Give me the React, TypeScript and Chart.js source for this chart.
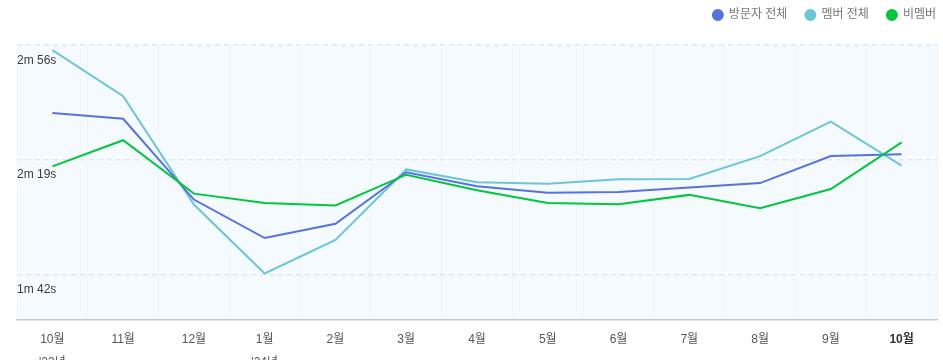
import React, { useEffect, useRef } from "react";
import { Chart, registerables } from "chart.js";

Chart.register(...registerables);

const months = ["10월", "11월", "12월", "1월", "2월", "3월", "4월", "5월", "6월", "7월", "8월", "9월", "10월"];
const years = ["'23년", "", "", "'24년", "", "", "", "", "", "", "", "", ""];

// average session time, in seconds
const visitors = [154.2, 152.3, 126.3, 113.9, 118.5, 135.1, 130.6, 128.5, 128.7, 130.2, 131.6, 140.3, 140.9];
const members = [174.4, 159.6, 124.7, 102.5, 113.3, 136.0, 131.9, 131.4, 132.8, 132.9, 140.3, 151.4, 137.2];
const nonMembers = [137.0, 145.4, 128.2, 125.2, 124.4, 134.3, 129.3, 125.2, 124.8, 127.8, 123.5, 129.7, 144.7];

const yTicks = [102, 139, 176];
const yMin = 87.5;
const yMax = 176.4;

const seriesNames = ["방문자 전체", "멤버 전체", "비멤버"];

const FONT = "'Liberation Sans', 'Noto Sans CJK KR', Arial, sans-serif";

const fmt = (v: number) => `${Math.floor(v / 60)}m ${Math.round(v % 60)}s`;

const bgPlugin = {
  id: "plotBg",
  beforeDraw(chart: any) {
    const { ctx, chartArea } = chart;
    if (!chartArea) return;
    ctx.save();
    ctx.fillStyle = "#f5faff";
    ctx.fillRect(chartArea.left, chartArea.top, chartArea.right - chartArea.left, chartArea.bottom - chartArea.top);
    ctx.restore();
  },
};

const legendShift = {
  id: "legendShift",
  afterLayout(chart: any) {
    const l = chart.legend;
    if (!l) return;
    l.top -= 13;
    l.bottom -= 13;
    l.left += 17;
    l.right += 17;
  },
};

export default function App() {
  const ref = useRef<HTMLCanvasElement | null>(null);

  useEffect(() => {
    if (!ref.current) return;
    const labels = months.map((m, i) => (years[i] ? [m, years[i]] : m));
    const chart = new Chart(ref.current, {
      type: "line",
      data: {
        labels,
        datasets: [
          {
            label: seriesNames[0],
            data: visitors,
            borderColor: "#5572e0",
            backgroundColor: "#5572e0",
            borderWidth: 2,
            pointRadius: 0,
            tension: 0,
            order: 2,
          },
          {
            label: seriesNames[1],
            data: members,
            borderColor: "#6bc6d6",
            backgroundColor: "#6bc6d6",
            borderWidth: 2,
            pointRadius: 0,
            tension: 0,
            order: 3,
          },
          {
            label: seriesNames[2],
            data: nonMembers,
            borderColor: "#00c73c",
            backgroundColor: "#00c73c",
            borderWidth: 2,
            pointRadius: 0,
            tension: 0,
            order: 1,
          },
        ],
      },
      options: {
        animation: false,
        responsive: false,
        devicePixelRatio: 1,
        layout: { padding: { left: 17, right: 6, top: 4, bottom: 0 } },
        plugins: {
          tooltip: { enabled: false },
          legend: {
            position: "top",
            align: "end",
            labels: {
              usePointStyle: true,
              pointStyle: "circle",
              boxWidth: 10,
              boxHeight: 7,
              padding: 18,
              color: "#777",
              font: { family: FONT, size: 12 },
              sort: (a: any, b: any) => a.datasetIndex - b.datasetIndex,
            },
          },
        },
        scales: {
          x: {
            type: "category",
            offset: true,
            grid: { display: true, offset: true, drawTicks: false, color: "#edf4fb", lineWidth: 1 },
            border: { display: true, color: "#c5cbd2", width: 1.5 },
            ticks: {
              autoSkip: false,
              maxRotation: 0,
              minRotation: 0,
              padding: 8,
              color: (c: any) => (c.index === months.length - 1 ? "#333" : "#555"),
              font: (c: any) => ({
                family: FONT,
                size: 12,
                lineHeight: 1.9,
                weight: c.index === months.length - 1 ? "bold" : "normal",
              }),
            },
            afterFit: (scale: any) => {
              scale.height = 40;
            },
          },
          y: {
            min: yMin,
            max: yMax,
            grid: { drawTicks: false, color: "#e4e8ec", lineWidth: 1.5 },
            border: { display: false, dash: [5, 4] },
            afterBuildTicks: (scale: any) => {
              scale.ticks = yTicks.map((v) => ({ value: v }));
            },
            ticks: {
              mirror: true,
              padding: 0,
              labelOffset: 15,
              color: "#3c3c3c",
              font: { family: FONT, size: 12 },
              callback: (v: any) => fmt(Number(v)),
            },
          },
        },
      },
      plugins: [bgPlugin, legendShift],
    });
    return () => chart.destroy();
  }, []);

  return (
    <div style={{ position: "absolute", left: 0, top: 0, width: 943, height: 360, overflow: "hidden", background: "#fff" }}>
      <canvas ref={ref} width={943} height={360} style={{ display: "block", width: 943, height: 360 }} />
    </div>
  );
}
